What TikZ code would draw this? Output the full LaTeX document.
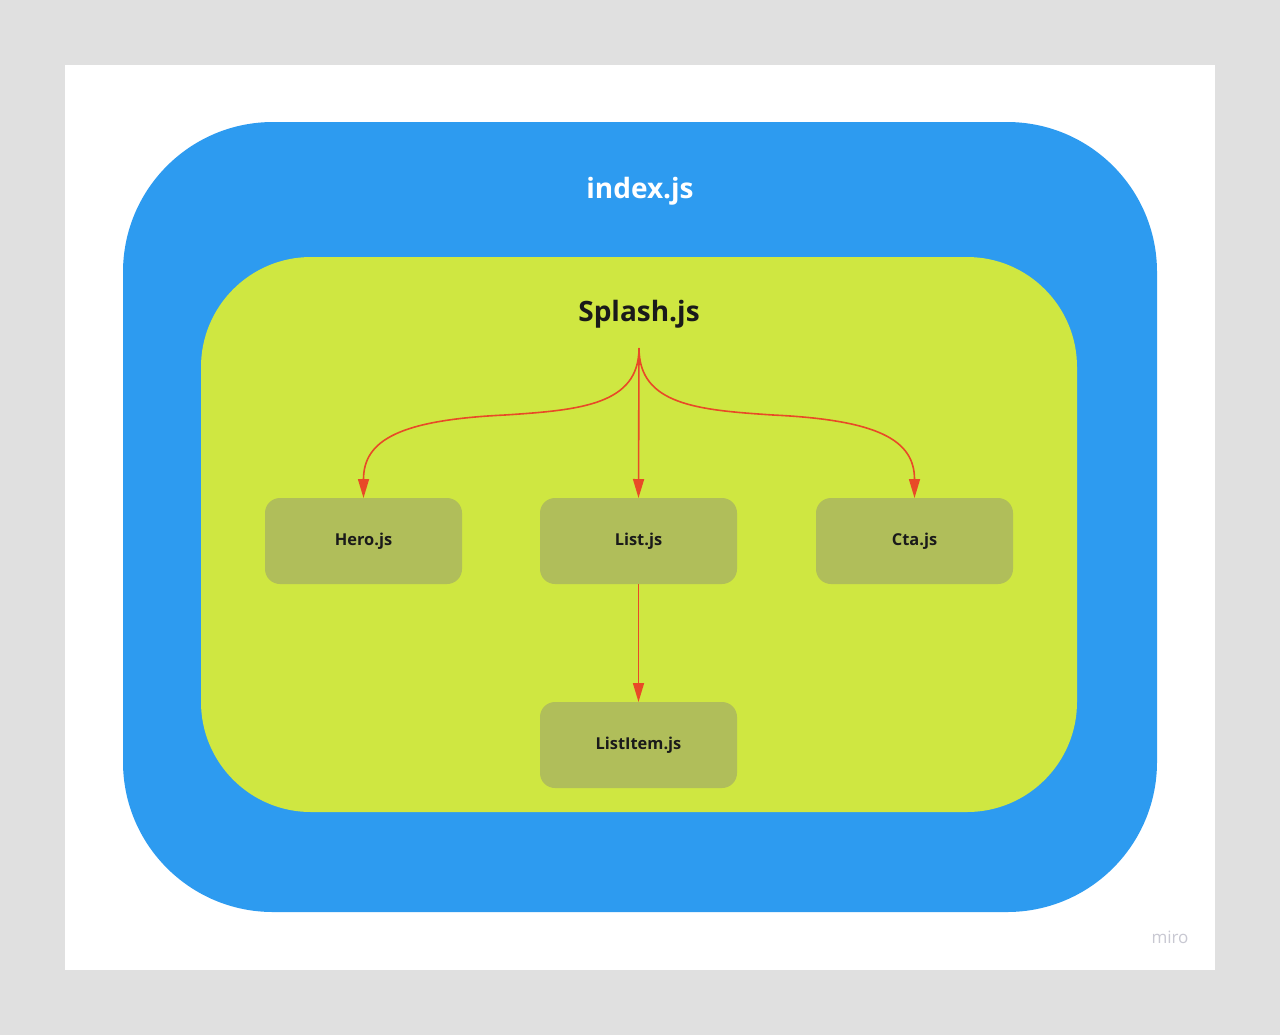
\documentclass[tikz,border=0pt]{standalone}
\usepackage{fontspec}
\setmainfont{Open Sans}
\usetikzlibrary{arrows.meta}
\definecolor{bgGrey}{HTML}{E0E0E0}
\definecolor{outerBlue}{HTML}{2D9BF0}
\definecolor{innerGreen}{HTML}{CFE741}
\definecolor{boxOlive}{HTML}{B0BE5A}
\definecolor{darkText}{HTML}{1A1A1A}
\definecolor{arrowRed}{HTML}{E84A27}
\definecolor{miroGrey}{HTML}{C8C8D2}
\tikzset{
  container/.style={inner sep=0pt, outer sep=0pt},
  modbox/.style={fill=boxOlive, rounded corners=7.5pt, minimum width=98.5pt, minimum height=43pt,
    inner sep=0pt, outer sep=0pt, font=\fontsize{8.2pt}{10pt}\selectfont\bfseries, text=darkText},
  link/.style={draw=arrowRed, line width=0.8pt, -{Triangle[length=9.5pt,width=5.5pt]}},
}
\begin{document}
\begin{tikzpicture}[x=0.5pt,y=-0.5pt]
\useasboundingbox (0,0) rectangle (1280,1035);
\fill[bgGrey] (0,0) rectangle (1280,1035);
\fill[white] (65,65) rectangle (1215,970);
\node[container, fill=outerBlue, rounded corners=75pt, minimum width=517pt, minimum height=395pt] (index) at (640,517) {};
\node[container, fill=innerGreen, rounded corners=55pt, minimum width=438pt, minimum height=277.5pt] (splash) at (639,534.5) {};
\node[text=white, font=\fontsize{14pt}{16pt}\selectfont\bfseries] (indexlbl) at (640,191) {index.js};
\node[text=darkText, font=\fontsize{14pt}{16pt}\selectfont\bfseries] (splashlbl) at (639,314) {Splash.js};
\node[modbox] (hero) at (363.5,541) {Hero.js};
\node[modbox] (list) at (638.5,541) {List.js};
\node[modbox] (cta) at (914.5,541) {Cta.js};
\node[modbox] (item) at (638.5,745) {ListItem.js};
\node[text=miroGrey, font=\fontsize{8.5pt}{10pt}\selectfont] (miro) at (1170,937) {miro};
\coordinate (src) at (639,348);
\coordinate (hmid) at (505,415);
\coordinate (cmid) at (773,415);
\draw[link] (src) .. controls (639,405) and (580,410) .. (hmid) .. controls (400,420) and (363.5,440) .. (hero.north);
\draw[link] (src) .. controls (639,405) and (698,410) .. (cmid) .. controls (878,420) and (914.5,440) .. (cta.north);
\draw[link] (src) -- (list.north);
\draw[link] (list.south) -- (item.north);
\end{tikzpicture}
\end{document}
